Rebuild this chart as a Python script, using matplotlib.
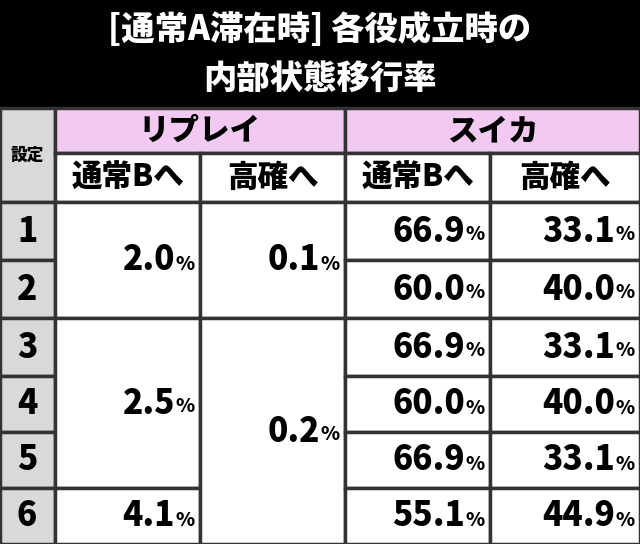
import matplotlib
matplotlib.use('Agg')
import matplotlib.pyplot as plt
from matplotlib.patches import Rectangle

plt.rcParams['font.family'] = ['Noto Sans CJK JP', 'DejaVu Sans']

title_lines = ['[通常A滞在時] 各役成立時の', '内部状態移行率']
groups = ['リプレイ', 'スイカ']
sub_headers = ['通常Bへ', '高確へ', '通常Bへ', '高確へ']
settings = ['1', '2', '3', '4', '5', '6']
# merged cells: (first row, last row, value)
replay_b = [(0, 1, '2.0'), (2, 4, '2.5'), (5, 5, '4.1')]
replay_h = [(0, 1, '0.1'), (2, 5, '0.2')]
suika_b = ['66.9', '60.0', '66.9', '60.0', '66.9', '55.1']
suika_h = ['33.1', '40.0', '33.1', '40.0', '33.1', '44.9']

fig = plt.figure(figsize=(6.4, 5.44), dpi=100)
ax = fig.add_axes([0, 0, 1, 1])
ax.set_xlim(0, 640)
ax.set_ylim(544, 0)
ax.axis('off')

W = 'black'

# title band
ax.add_patch(Rectangle((0, 0), 640, 108, color='black'))
ax.text(320, 30, title_lines[0], color='white', fontsize=24, fontweight=W, ha='center', va='center')
ax.text(320, 78, title_lines[1], color='white', fontsize=24, fontweight=W, ha='center', va='center')

cols = [0, 55, 200, 345, 490, 640]
h1_top, h1_bot, h2_bot = 108, 153, 202
row_top = [202, 260, 318, 376, 432, 488]
row_bot = row_top[1:] + [544]
line = '#333333'

def cell(x0, x1, y0, y1, fc):
    ax.add_patch(Rectangle((x0, y0), x1 - x0, y1 - y0, facecolor=fc, edgecolor=line, lw=2.5))

def pct(x1, y0, y1, val):
    yc = (y0 + y1) / 2
    ax.text(x1 - 25, yc, val, fontsize=24, fontweight=W, ha='right', va='center')
    ax.text(x1 - 5, yc + 4, '%', fontsize=14, fontweight=W, ha='right', va='center')

# header
cell(0, 55, h1_top, h2_bot, '#d9d9d9')
ax.text(27, 155, '設定', fontsize=12, fontweight=W, ha='center', va='center')
for i, g in enumerate(groups):
    x0, x1 = cols[1 + 2 * i], cols[3 + 2 * i]
    cell(x0, x1, h1_top, h1_bot, '#f2c9f0')
    ax.text((x0 + x1) / 2, (h1_top + h1_bot) / 2, g, fontsize=22, fontweight=W, ha='center', va='center')
for i, s in enumerate(sub_headers):
    x0, x1 = cols[1 + i], cols[2 + i]
    cell(x0, x1, h1_bot, h2_bot, 'white')
    ax.text((x0 + x1) / 2, (h1_bot + h2_bot) / 2, s, fontsize=22, fontweight=W, ha='center', va='center')

# setting column
for r, s in enumerate(settings):
    cell(0, 55, row_top[r], row_bot[r], '#d9d9d9')
    ax.text(27, (row_top[r] + row_bot[r]) / 2, s, fontsize=24, fontweight=W, ha='center', va='center')

for ci, merged in ((1, replay_b), (2, replay_h)):
    for r0, r1, v in merged:
        cell(cols[ci], cols[ci + 1], row_top[r0], row_bot[r1], 'white')
        pct(cols[ci + 1], row_top[r0], row_bot[r1], v)

for ci, vals in ((3, suika_b), (4, suika_h)):
    for r, v in enumerate(vals):
        cell(cols[ci], cols[ci + 1], row_top[r], row_bot[r], 'white')
        pct(cols[ci + 1], row_top[r], row_bot[r], v)

fig.savefig('out.png', dpi=100)
